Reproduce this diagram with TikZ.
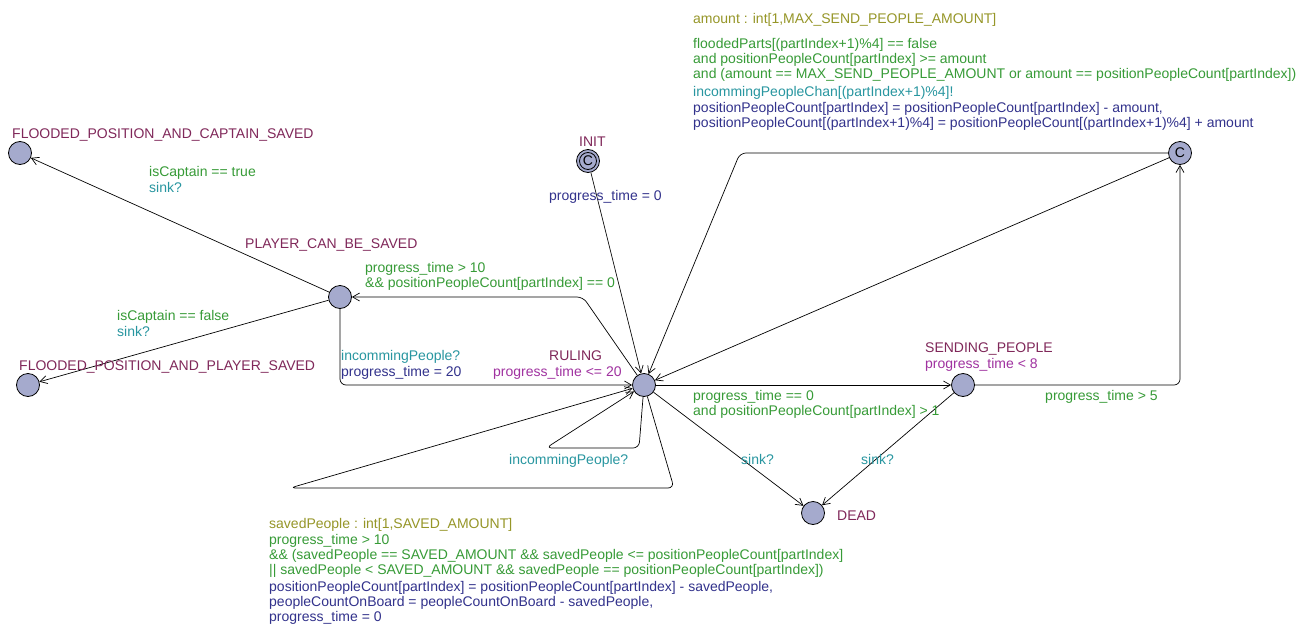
\documentclass[tikz,border=0pt]{standalone}
\usepackage{fontspec}
\setmainfont{Liberation Sans}
\usetikzlibrary{arrows.meta}
\definecolor{cname}{RGB}{128,40,90}
\definecolor{cinv}{RGB}{160,50,160}
\definecolor{cguard}{RGB}{55,155,55}
\definecolor{csync}{RGB}{40,150,160}
\definecolor{cupd}{RGB}{50,50,140}
\definecolor{csel}{RGB}{150,150,40}
\definecolor{locfill}{RGB}{165,170,205}
\newcommand\lblfont{\fontsize{14}{15}\selectfont}
\begin{document}
\begin{tikzpicture}[x=1pt,y=-1pt,
  loc/.style={circle,draw=black,fill=locfill,minimum size=23pt,inner sep=0pt,line width=0.8pt,font=\lblfont},
  edge/.style={draw=black,line width=0.7pt,rounded corners=6pt,-{Straight Barb[length=7pt,width=8pt]}},
  lbl/.style={anchor=base west,inner sep=0pt,font=\lblfont,align=left},
  nm/.style={lbl,text=cname},
  inv/.style={lbl,text=cinv},
  grd/.style={lbl,text=cguard},
  syn/.style={lbl,text=csync},
  upd/.style={lbl,text=cupd},
  sel/.style={lbl,text=csel}]
\useasboundingbox (0,0) rectangle (1308,634);
\fill[white] (0,0) rectangle (1308,634);
% locations
\node[loc] (fcs) at (20,153) {};
\node[loc] (fps) at (28,385) {};
\node[loc] (pcbs) at (340,297) {};
\node[loc] (init) at (588,161) {C};
\draw[line width=0.8pt] (init.center) circle (8.5pt);
\node[loc] (ruling) at (644,385) {};
\node[loc] (cnode) at (1180,153) {C};
\node[loc] (sending) at (963,385) {};
\node[loc] (dead) at (813,513) {};
% nails
\coordinate (n1) at (583,297);
\coordinate (n2) at (340,385);
\coordinate (n3) at (639,448);
\coordinate (n4) at (546,448);
\coordinate (n5) at (674,488);
\coordinate (n6) at (290,488);
\coordinate (n7) at (1180,385);
\coordinate (n8) at (740,153);
% edges
\draw[edge] (init) -- (ruling);
\draw[edge] (ruling) -- (n1) -- (pcbs);
\draw[edge] (pcbs) -- (n2) -- (ruling);
\draw[edge] (pcbs) -- (fcs);
\draw[edge] (pcbs) -- (fps);
\draw[edge] (ruling) -- (n3) -- (n4) -- (ruling);
\draw[edge] (ruling) -- (n5) -- (n6) -- (ruling);
\draw[edge] (ruling) -- (sending);
\draw[edge] (sending) -- (n7) -- (cnode);
\draw[edge] (cnode) -- (n8) -- (ruling);
\draw[edge] (cnode) -- (ruling);
\draw[edge] (ruling) -- (dead);
\draw[edge] (sending) -- (dead);
% location labels
\node[nm] (lfcs) at (12,138) {FLOODED\_POSITION\_AND\_CAPTAIN\_SAVED};
\node[nm] (lfps) at (19,370) {FLOODED\_POSITION\_AND\_PLAYER\_SAVED};
\node[nm] (lpcbs) at (245,248) {PLAYER\_CAN\_BE\_SAVED};
\node[nm] (linit) at (579,146) {INIT};
\node[nm] (lrul) at (549,360) {RULING};
\node[inv] (irul) at (493,376) {progress\_time <= 20};
\node[nm] (lsend) at (925,352) {SENDING\_PEOPLE};
\node[inv] (isend) at (925,368) {progress\_time < 8};
\node[nm] (ldead) at (837,520) {DEAD};
% edge labels (multi-line labels: coordinate is the baseline of the last line)
\node[sel] (s1) at (693,24) {amount : int[1,MAX\_SEND\_PEOPLE\_AMOUNT]};
\node[grd] (g1) at (693,78) {floodedParts[(partIndex+1)\%4] == false\\and positionPeopleCount[partIndex] >= amount\\and (amount == MAX\_SEND\_PEOPLE\_AMOUNT or amount == positionPeopleCount[partIndex])};
\node[syn] (y1) at (693,96) {incommingPeopleChan[(partIndex+1)\%4]!};
\node[upd] (u1) at (693,127) {positionPeopleCount[partIndex] = positionPeopleCount[partIndex] - amount,\\positionPeopleCount[(partIndex+1)\%4] = positionPeopleCount[(partIndex+1)\%4] + amount};
\node[upd] (u2) at (549,200) {progress\_time = 0};
\node[grd] (g2) at (149,176) {isCaptain == true};
\node[syn] (y2) at (149,192) {sink?};
\node[grd] (g3) at (365,287) {progress\_time > 10\\\&\& positionPeopleCount[partIndex] == 0};
\node[grd] (g4) at (117,320) {isCaptain == false};
\node[syn] (y4) at (117,336) {sink?};
\node[syn] (y5) at (341,360) {incommingPeople?};
\node[upd] (u5) at (341,376) {progress\_time = 20};
\node[grd] (g6) at (693,415) {progress\_time == 0\\and positionPeopleCount[partIndex] > 1};
\node[grd] (g7) at (1045,400) {progress\_time > 5};
\node[syn] (y8) at (509,464) {incommingPeople?};
\node[syn] (y9) at (741,464) {sink?};
\node[syn] (y10) at (861,464) {sink?};
\node[sel] (s11) at (269,528) {savedPeople : int[1,SAVED\_AMOUNT]};
\node[grd] (g11) at (269,574) {progress\_time > 10\\\&\& (savedPeople == SAVED\_AMOUNT \&\& savedPeople <= positionPeopleCount[partIndex]\\|| savedPeople < SAVED\_AMOUNT \&\& savedPeople == positionPeopleCount[partIndex])};
\node[upd] (u11) at (269,621) {positionPeopleCount[partIndex] = positionPeopleCount[partIndex] - savedPeople,\\peopleCountOnBoard = peopleCountOnBoard - savedPeople,\\progress\_time = 0};
\end{tikzpicture}
\end{document}
